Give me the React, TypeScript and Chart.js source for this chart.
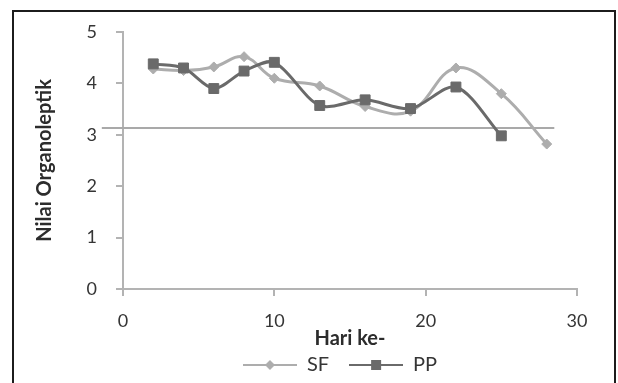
import { useEffect, useRef } from "react";
import { Chart, registerables } from "chart.js";

Chart.register(...registerables);

// Storage day (x) and organoleptic score (y) per treatment
const hariSF = [2, 4, 6, 8, 10, 13, 16, 19, 22, 25, 28];
const nilaiSF = [4.28, 4.25, 4.32, 4.52, 4.1, 3.95, 3.55, 3.46, 4.3, 3.8, 2.82];
const hariPP = [2, 4, 6, 8, 10, 13, 16, 19, 22, 25];
const nilaiPP = [4.38, 4.3, 3.9, 4.24, 4.41, 3.57, 3.68, 3.51, 3.93, 2.98];

// Acceptance limit line (drawn a little past the axes on both sides)
const batasHari = [-1.4, 28.5];
const batasNilai = 3.13;

const xTicks = [0, 10, 20, 30];
const yTicks = [0, 1, 2, 3, 4, 5];

const FONT = "Lato";
const SF_COLOR = "#adadad";
const PP_COLOR = "#6a6a6a";
const AXIS_COLOR = "#b3b3b3";
const TEXT_COLOR = "#353535";

function legendSymbol(color: string, marker: "rect" | "diamond"): HTMLCanvasElement {
  const c = document.createElement("canvas");
  c.width = 54;
  c.height = 14;
  const g = c.getContext("2d")!;
  g.strokeStyle = color;
  g.lineWidth = 2;
  g.beginPath();
  g.moveTo(0, 7);
  g.lineTo(54, 7);
  g.stroke();
  g.fillStyle = color;
  if (marker === "rect") {
    g.fillRect(22, 2, 10, 10);
  } else {
    g.beginPath();
    g.moveTo(27, 2);
    g.lineTo(32, 7);
    g.lineTo(27, 12);
    g.lineTo(22, 7);
    g.closePath();
    g.fill();
  }
  return c;
}

// Nudges the legend block a little left so it sits under the axis title
const legendNudge = {
  id: "legendNudge",
  afterLayout(chart: Chart) {
    const lg: any = (chart as any).legend;
    if (lg) {
      lg.left -= 10;
      lg.right -= 10;
    }
  },
};

export default function App() {
  const canvasRef = useRef<HTMLCanvasElement | null>(null);

  useEffect(() => {
    if (!canvasRef.current) return;
    const symbols: Record<string, HTMLCanvasElement> = {
      SF: legendSymbol(SF_COLOR, "diamond"),
      PP: legendSymbol(PP_COLOR, "rect"),
    };

    const chart = new Chart(canvasRef.current, {
      type: "line",
      data: {
        datasets: [
          {
            label: "SF",
            data: hariSF.map((x, i) => ({ x, y: nilaiSF[i] })),
            borderColor: SF_COLOR,
            backgroundColor: SF_COLOR,
            borderWidth: 3,
            pointStyle: "rectRot",
            pointRadius: 5,
            pointBorderWidth: 1,
            tension: 0.4,
            order: 1,
          },
          {
            label: "PP",
            data: hariPP.map((x, i) => ({ x, y: nilaiPP[i] })),
            borderColor: PP_COLOR,
            backgroundColor: PP_COLOR,
            borderWidth: 3,
            pointStyle: "rect",
            pointRadius: 7,
            pointBorderWidth: 1,
            tension: 0.3,
            order: 0,
          },
          {
            label: "batas",
            data: batasHari.map((x) => ({ x, y: batasNilai })),
            borderColor: "#a9a9a9",
            borderWidth: 2,
            pointRadius: 0,
            tension: 0,
            clip: false as any,
            order: 2,
          },
        ],
      },
      options: {
        responsive: false,
        animation: false,
        layout: { padding: { left: 14, right: 41, top: 32, bottom: -2 } },
        plugins: {
          tooltip: { enabled: false },
          legend: {
            position: "bottom",
            fullSize: false,
            labels: {
              font: { family: FONT, size: 20 },
              color: TEXT_COLOR,
              usePointStyle: true,
              pointStyleWidth: 54,
              boxHeight: 14,
              padding: 20,
              filter: (item) => item.datasetIndex !== 2,
              sort: (a, b) => (a.datasetIndex ?? 0) - (b.datasetIndex ?? 0),
              generateLabels: (ch) =>
                Chart.defaults.plugins.legend.labels.generateLabels(ch).map((item) => ({
                  ...item,
                  pointStyle: symbols[item.text] ?? item.pointStyle,
                })),
            },
          },
        },
        scales: {
          x: {
            type: "linear",
            min: 0,
            max: 30,
            afterBuildTicks: (s) => {
              s.ticks = xTicks.map((value) => ({ value }));
            },
            afterFit: (s) => {
              s.height = 46;
            },
            border: { display: true, color: AXIS_COLOR, width: 2 },
            grid: {
              drawOnChartArea: false,
              drawTicks: true,
              tickLength: 7,
              color: AXIS_COLOR,
              lineWidth: 2,
            },
            ticks: { padding: 14, color: TEXT_COLOR, font: { family: FONT, size: 18 } },
            title: {
              display: true,
              text: "Hari ke-",
              color: "#2c2c2c",
              font: { family: FONT, size: 20, weight: "bold" },
              padding: { top: 0, bottom: -16 },
            },
          },
          y: {
            min: 0,
            max: 5,
            afterBuildTicks: (s) => {
              s.ticks = yTicks.map((value) => ({ value }));
            },
            afterFit: (s) => {
              s.width = 109;
            },
            border: { display: true, color: AXIS_COLOR, width: 2 },
            grid: {
              drawOnChartArea: false,
              drawTicks: true,
              tickLength: 7,
              color: AXIS_COLOR,
              lineWidth: 2,
            },
            ticks: { padding: 19, color: TEXT_COLOR, font: { family: FONT, size: 18 } },
            title: {
              display: true,
              text: "Nilai Organoleptik",
              color: "#2c2c2c",
              font: { family: FONT, size: 20, weight: "bold" },
              padding: { top: 19, bottom: 0 },
            },
          },
        },
      },
      plugins: [legendNudge],
    });
    return () => chart.destroy();
  }, []);

  return (
    <div
      style={{
        position: "fixed",
        left: 0,
        top: 0,
        width: 618,
        height: 383,
        overflow: "hidden",
        background: "#fff",
      }}
    >
      <div
        style={{
          position: "absolute",
          left: 12,
          top: 10,
          width: 604,
          height: 400,
          boxSizing: "border-box",
          border: "2px solid #1c1c1c",
        }}
      />
      <canvas
        ref={canvasRef}
        width={618}
        height={383}
        style={{ position: "absolute", left: 0, top: 0, width: 618, height: 383, display: "block" }}
      />
    </div>
  );
}
